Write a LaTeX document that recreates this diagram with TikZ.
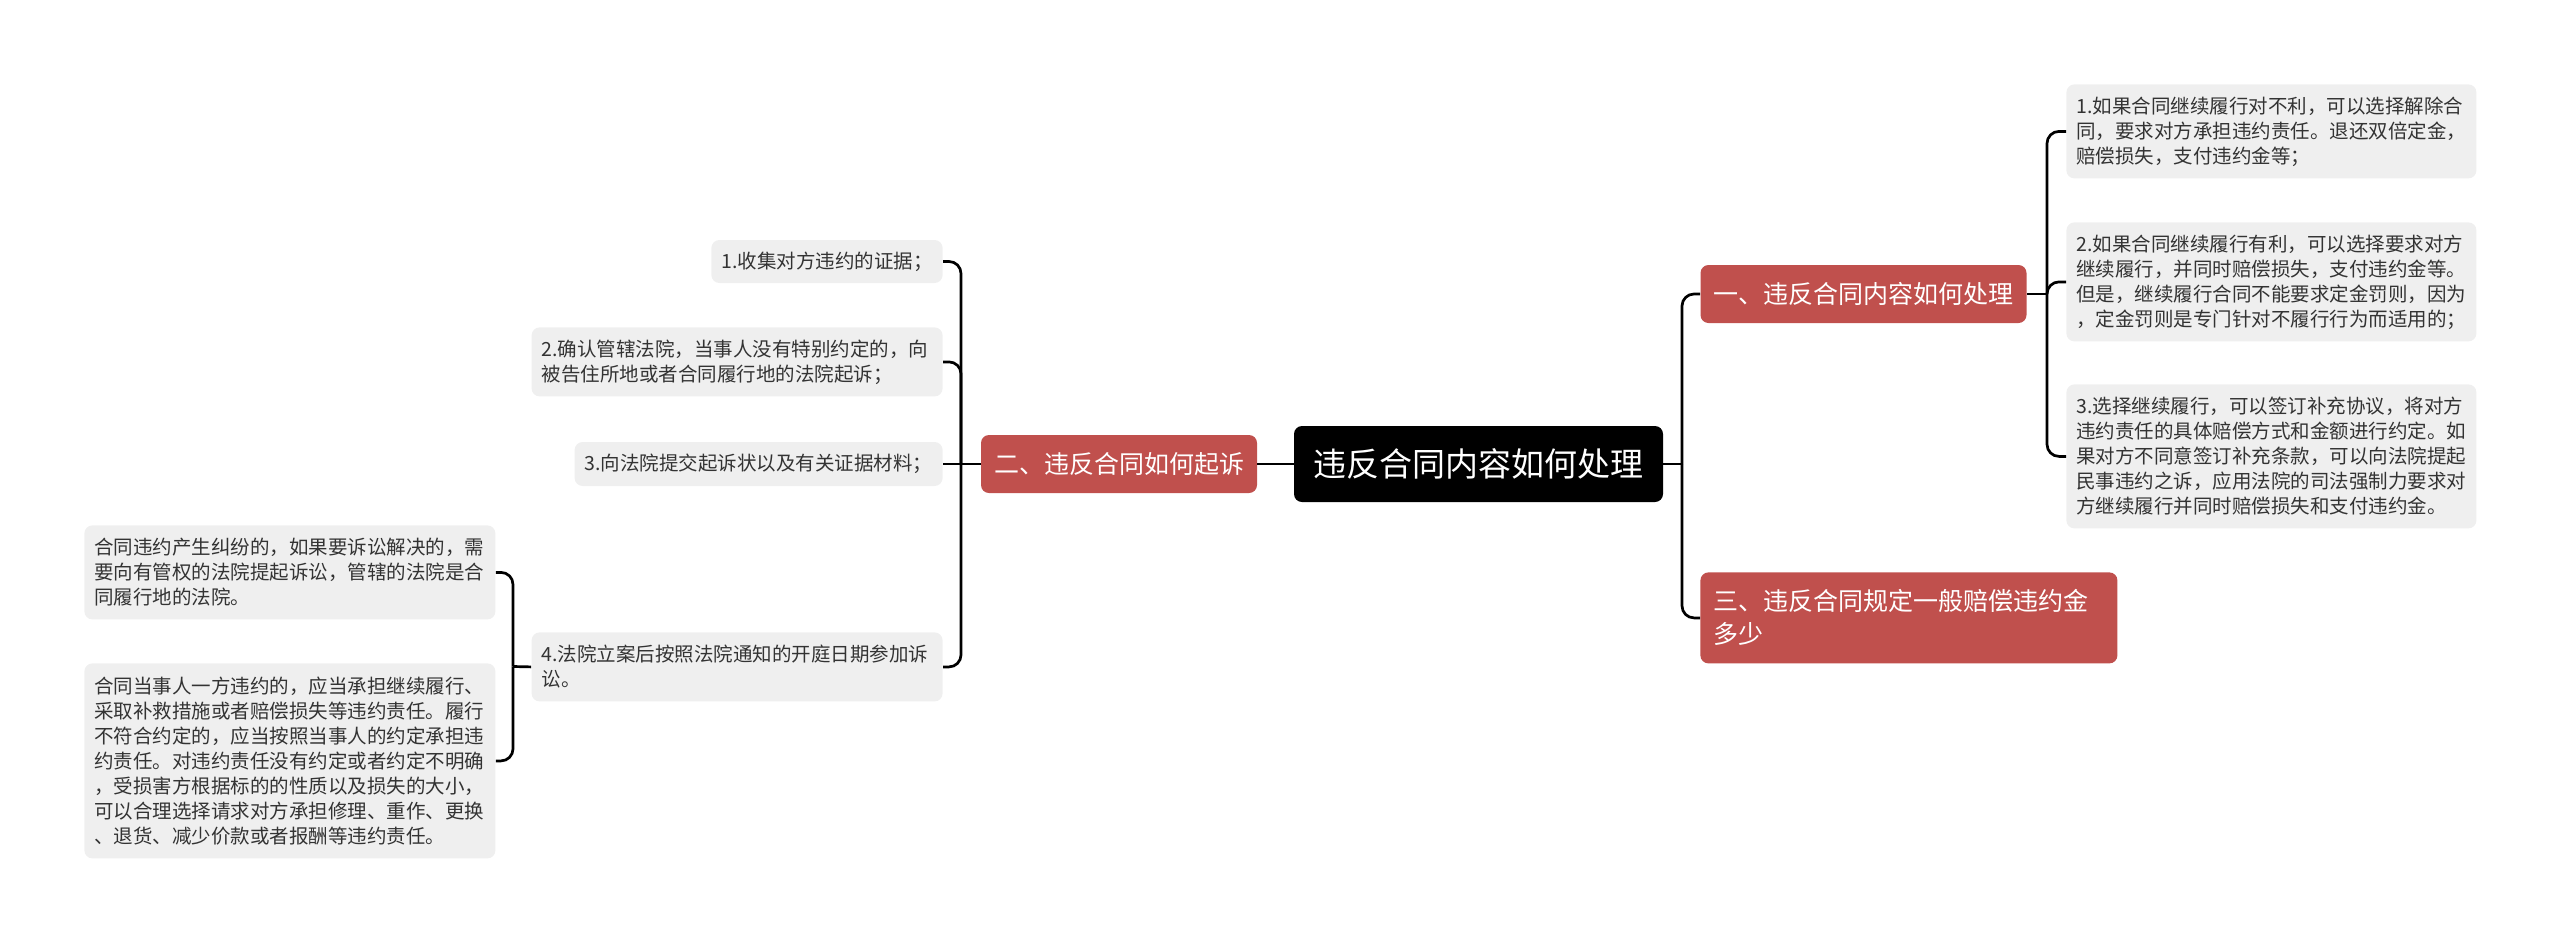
\documentclass[tikz,border=0pt]{standalone}
\usepackage{fontspec}
\setmainfont{Noto Sans CJK SC}
\definecolor{redfill}{HTML}{C0504D}
\definecolor{leaffill}{HTML}{EFEFEF}
\definecolor{leaftext}{HTML}{333333}
\begin{document}
\begin{tikzpicture}[x=0.5pt,y=-0.5pt,
  rootbox/.style={fill=black, text=white, rounded corners=4pt, inner sep=0pt,
    font=\fontsize{16.5}{20}\selectfont, minimum width=184.5pt, minimum height=38pt},
  redbox/.style={fill=redfill, text=white, rounded corners=4pt, inner xsep=6.5pt, inner ysep=0pt,
    font=\fontsize{12.5}{16.5}\selectfont, minimum height=29pt, align=left},
  leafbox/.style={fill=leaffill, text=leaftext, rounded corners=4pt, inner xsep=5pt, inner ysep=0pt,
    font=\fontsize{9.75}{12.5}\selectfont, align=left},
  conn/.style={draw=black, line width=1.35pt, rounded corners=6pt}
]
\useasboundingbox (0,0) rectangle (2560,943);

% root and first level
\node[rootbox] (root) at (1478.5,464) {违反合同内容如何处理};
\node[redbox] (n2) at (1119,464) {二、违反合同如何起诉};
\node[redbox] (n1) at (1863.5,294) {一、违反合同内容如何处理};
\node[redbox, anchor=north west, text width=195.5pt, minimum height=45.5pt] (n3) at (1700,572)
  {三、违反合同规定一般赔偿违约金\\多少};

% right leaves
\node[leafbox, anchor=north west, text width=195pt, minimum height=47pt] (r1) at (2066,84)
  {1.如果合同继续履行对不利，可以选择解除合\\同，要求对方承担违约责任。退还双倍定金，\\赔偿损失，支付违约金等；};
\node[leafbox, anchor=north west, text width=195pt, minimum height=59.5pt] (r2) at (2066,222)
  {2.如果合同继续履行有利，可以选择要求对方\\继续履行，并同时赔偿损失，支付违约金等。\\但是，继续履行合同不能要求定金罚则，因为\\，定金罚则是专门针对不履行行为而适用的；};
\node[leafbox, anchor=north west, text width=195pt, minimum height=72pt] (r3) at (2066,384)
  {3.选择继续履行，可以签订补充协议，将对方\\违约责任的具体赔偿方式和金额进行约定。如\\果对方不同意签订补充条款，可以向法院提起\\民事违约之诉，应用法院的司法强制力要求对\\方继续履行并同时赔偿损失和支付违约金。};

% left leaves
\node[leafbox, anchor=east, inner xsep=5pt, minimum width=115pt, minimum height=21.5pt] (l1) at (943,261.5)
  {1.收集对方违约的证据；};
\node[leafbox, anchor=north east, text width=195.5pt, minimum height=34.5pt] (l2) at (943,327)
  {2.确认管辖法院，当事人没有特别约定的，向\\被告住所地或者合同履行地的法院起诉；};
\node[leafbox, anchor=east, minimum width=184pt, minimum height=22pt] (l3) at (943,464)
  {3.向法院提交起诉状以及有关证据材料；};
\node[leafbox, anchor=north east, text width=195.5pt, minimum height=34.5pt] (l4) at (943,632)
  {4.法院立案后按照法院通知的开庭日期参加诉\\讼。};

% far-left leaves
\node[leafbox, anchor=north west, text width=195.5pt, minimum height=47pt] (ll1) at (84,525)
  {合同违约产生纠纷的，如果要诉讼解决的，需\\要向有管权的法院提起诉讼，管辖的法院是合\\同履行地的法院。};
\node[leafbox, anchor=north west, text width=195.5pt, minimum height=97.5pt] (ll2) at (84,663)
  {合同当事人一方违约的，应当承担继续履行、\\采取补救措施或者赔偿损失等违约责任。履行\\不符合约定的，应当按照当事人的约定承担违\\约责任。对违约责任没有约定或者约定不明确\\，受损害方根据标的的性质以及损失的大小，\\可以合理选择请求对方承担修理、重作、更换\\、退货、减少价款或者报酬等违约责任。};

% junction coordinates
\coordinate (sR) at (1682,464);
\coordinate (sA) at (2047,294);
\coordinate (sB) at (961,464);
\coordinate (sC) at (513,666.5);

% connectors
\draw[conn] (root.east) -- (sR);
\draw[conn] (sR) |- (n1.west);
\draw[conn] (sR) |- (n3.west);
\draw[conn] (root.west) -- (n2.east);

\draw[conn] (n1.east) -- (sA);
\draw[conn] (sA) |- (r1.west);
\draw[conn] (sA) |- (r2.west);
\draw[conn] (sA) |- (r3.west);

\draw[conn] (n2.west) -- (sB);
\draw[conn] (sB) |- (l1.east);
\draw[conn] (sB) |- (l2.east);
\draw[conn] (sB) -- (l3.east);
\draw[conn] (sB) |- (l4.east);

\draw[conn] (l4.west) -- (sC);
\draw[conn] (sC) |- (ll1.east);
\draw[conn] (sC) |- (ll2.east);
\end{tikzpicture}
\end{document}
